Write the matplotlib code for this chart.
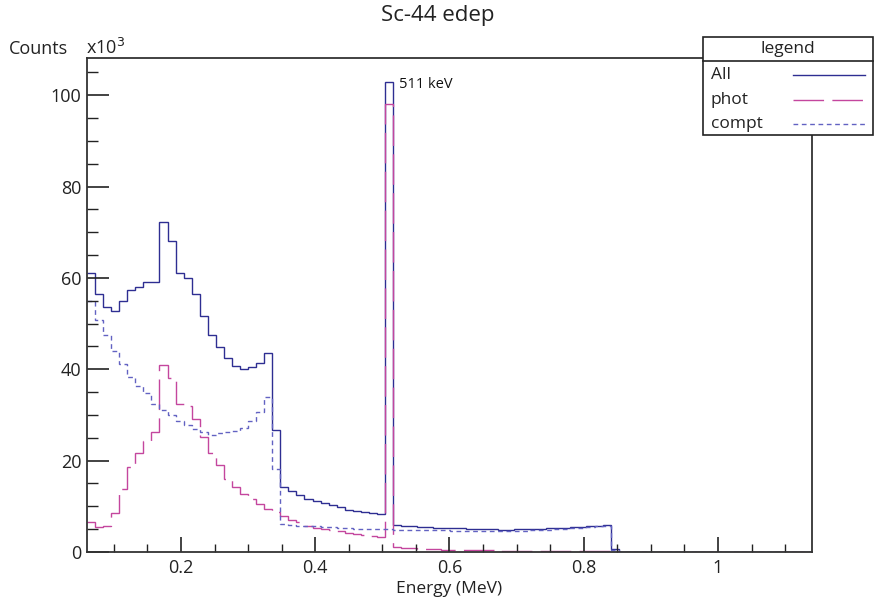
import numpy as np
import matplotlib
matplotlib.use("Agg")
import matplotlib.pyplot as plt
from matplotlib.lines import Line2D
from matplotlib.patches import Rectangle
from matplotlib.ticker import MultipleLocator

plt.rcParams['font.family'] = ['Open Sans', 'DejaVu Sans']
plt.rcParams['lines.scale_dashes'] = False

# ---- data (counts in units of 10^3) ----
bin_lo = 0.06
bin_w = 0.012
n_bins = 90

all_counts = [61.1, 56.4, 53.7, 52.7, 54.9, 57.3, 58.1, 59.2, 59.1, 72.2,
              68.1, 61.1, 60.0, 56.5, 51.6, 47.4, 44.9, 42.5, 40.8, 40.0,
              40.6, 41.4, 43.5, 26.8, 14.2, 13.3, 12.4, 11.7, 11.2, 10.7,
              10.2, 9.8, 9.3, 9.0, 8.8, 8.5, 8.4, 103.0, 5.9, 5.8,
              5.65, 5.5, 5.4, 5.35, 5.25, 5.2, 5.2, 5.05, 5.0, 5.0,
              5.0, 4.9, 4.9, 4.95, 5.0, 5.05, 5.1, 5.2, 5.2, 5.3,
              5.4, 5.5, 5.7, 5.8, 6.0, 0.6, 0.05, 0.03, 0.03, 0.03,
              0.03, 0.03, 0.03, 0.03, 0.03, 0.03, 0.03, 0.03, 0.03, 0.03,
              0.03, 0.03, 0.03, 0.03, 0.03, 0.03, 0.03, 0.03, 0.03, 0.03]

phot_counts = [6.5, 5.5, 5.6, 8.5, 13.7, 18.7, 21.7, 24.3, 26.3, 40.9,
               38.0, 32.3, 32.0, 29.2, 25.2, 21.6, 19.0, 16.0, 14.3, 12.8,
               11.7, 10.5, 9.5, 8.7, 7.9, 7.0, 6.6, 5.8, 5.3, 5.0,
               4.8, 4.6, 4.2, 3.9, 3.7, 3.6, 3.2, 98.0, 1.0, 0.9,
               0.8, 0.7, 0.6, 0.6, 0.5, 0.5, 0.5, 0.4, 0.4, 0.4,
               0.4, 0.3, 0.3, 0.3, 0.3, 0.3, 0.3, 0.3, 0.2, 0.2,
               0.2, 0.2, 0.2, 0.2, 0.2, 0.15, 0.02, 0.02, 0.02, 0.02,
               0.02, 0.02, 0.02, 0.02, 0.02, 0.02, 0.02, 0.02, 0.02, 0.02,
               0.02, 0.02, 0.02, 0.02, 0.02, 0.02, 0.02, 0.02, 0.02, 0.02]

compt_counts = [55.0, 50.9, 47.6, 44.0, 41.1, 38.4, 36.3, 34.7, 32.5, 31.1,
                30.0, 28.7, 27.8, 27.0, 26.3, 25.7, 26.0, 26.2, 26.5, 27.1,
                28.7, 30.7, 34.0, 18.1, 6.1, 6.0, 5.8, 5.7, 5.6, 5.5,
                5.4, 5.3, 5.2, 5.1, 5.1, 5.0, 5.0, 5.0, 4.9, 4.9,
                4.85, 4.8, 4.8, 4.75, 4.75, 4.7, 4.7, 4.65, 4.6, 4.6,
                4.6, 4.6, 4.6, 4.65, 4.7, 4.75, 4.8, 4.9, 5.0, 5.1,
                5.2, 5.3, 5.5, 5.6, 5.8, 0.4, 0.02, 0.01, 0.01, 0.01,
                0.01, 0.01, 0.01, 0.01, 0.01, 0.01, 0.01, 0.01, 0.01, 0.01,
                0.01, 0.01, 0.01, 0.01, 0.01, 0.01, 0.01, 0.01, 0.01, 0.01]

series_names = ["All", "phot", "compt"]
x_ticks = [0.2, 0.4, 0.6, 0.8, 1.0]
x_tick_labels = ["0.2", "0.4", "0.6", "0.8", "1"]
y_ticks = [0, 20, 40, 60, 80, 100]

edges = bin_lo + bin_w * np.arange(n_bins + 1)

c_all = '#2e2e92'
c_phot = '#c4469e'
c_compt = '#6262c2'
sty_all = '-'
sty_phot = (0, (22, 6))
sty_compt = (0, (3.4, 2.6))

W, H = 875, 605
fig = plt.figure(figsize=(W / 100, H / 100), dpi=100)
ax = fig.add_axes([87 / W, 1 - 552 / H, (812 - 87) / W, (552 - 58) / H])

ax.stairs(all_counts, edges, baseline=None, color=c_all, lw=1.0, ls=sty_all)
ax.stairs(phot_counts, edges, baseline=None, color=c_phot, lw=1.0, ls=sty_phot)
ax.stairs(compt_counts, edges, baseline=None, color=c_compt, lw=1.0, ls=sty_compt)

ymax = 1.05 * max(all_counts)
ax.set_xlim(edges[0], edges[-1])
ax.set_ylim(0, ymax)

ax.set_xticks(x_ticks)
ax.set_xticklabels(x_tick_labels)
ax.set_yticks(y_ticks)
ax.xaxis.set_minor_locator(MultipleLocator(0.05))
ax.yaxis.set_minor_locator(MultipleLocator(5))
ax.tick_params(axis='both', which='both', direction='in', top=False, right=False,
               colors='#222222', labelcolor='#222222', labelsize=13)
ax.tick_params(axis='x', which='major', length=11, width=1.2, pad=5)
ax.tick_params(axis='x', which='minor', length=5.5, width=1.0)
ax.tick_params(axis='y', which='major', length=16, width=1.2, pad=4)
ax.tick_params(axis='y', which='minor', length=8, width=1.0)
for s in ax.spines.values():
    s.set_linewidth(1.3)
    s.set_color('#333333')

ax.set_xlabel("Energy (MeV)", fontsize=12.5, color='#222222', labelpad=3)

ax.text(0.5255, 102.3, "511 keV", fontsize=10.5, color='#111111', va='center', ha='left')

fig.text(0.5, 1 - 16 / H, "Sc-44 edep", ha='center', va='center', fontsize=16, color='#222222')
fig.text(9 / W, 1 - 54 / H, "Counts", ha='left', va='baseline', fontsize=13, color='#222222')
fig.text(86 / W, 1 - 54 / H, r"x10$^{3}$", ha='left', va='baseline', fontsize=13, color='#222222')

# legend box (ROOT-style)
lx0, lx1, ly0, ly1, lsep = 703, 873, 37, 135, 61
fig.patches.append(Rectangle((lx0 / W, 1 - ly1 / H), (lx1 - lx0) / W, (ly1 - ly0) / H,
                             transform=fig.transFigure, fill=True, fc='white',
                             ec='#222222', lw=1.2, zorder=5))
fig.lines.append(Line2D([lx0 / W, lx1 / W], [1 - lsep / H, 1 - lsep / H],
                        transform=fig.transFigure, color='#222222', lw=1.2, zorder=6))
fig.text((lx0 + lx1) / 2 / W, 1 - 49 / H, "legend", ha='center', va='center',
         fontsize=12.5, color='#222222', zorder=7)
entry_y = [75, 100, 124]
colors = [c_all, c_phot, c_compt]
styles = [sty_all, sty_phot, sty_compt]
for name, yy, c, st in zip(series_names, entry_y, colors, styles):
    fig.text(711 / W, 1 - yy / H, name, ha='left', va='center', fontsize=12.5,
             color='#222222', zorder=7)
    fig.lines.append(Line2D([793 / W, 865 / W], [1 - yy / H, 1 - yy / H],
                            transform=fig.transFigure, color=c, lw=1.0, ls=st, zorder=7))

fig.savefig("out.png", dpi=100)
